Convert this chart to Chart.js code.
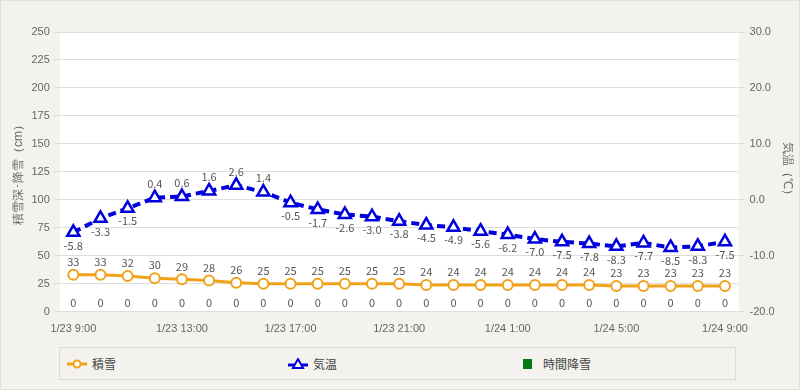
<!DOCTYPE html>
<html>
<head>
<meta charset="utf-8">
<script src="https://cdn.jsdelivr.net/npm/chart.js@4.4.0/dist/chart.umd.min.js"></script>
<style>
  body { margin: 0; background: #f3f2ee; font-family: 'Noto Sans CJK JP', sans-serif; }
  #wrap { position: relative; width: 798px; height: 388px; border: 1px solid #e2e1dc; }
  #chartBox { position: absolute; left: 0; top: 0; width: 798px; height: 342px; }
  #legend { position: absolute; left: 58px; top: 346px; width: 677px; height: 33px;
            border: 1px solid #dcdbd6; box-sizing: border-box; }
  .item { position: absolute; top: 7px; font-size: 12px; color: #444; display: flex; align-items: center; }
  .item svg { margin-right: 5px; }
</style>
</head>
<body>
<div id="wrap">
  <div id="chartBox"><canvas id="snowChart"></canvas></div>
  <div id="legend"></div>
</div>
<script>
const categories = ['1/23 9:00','1/23 10:00','1/23 11:00','1/23 12:00','1/23 13:00','1/23 14:00','1/23 15:00',
  '1/23 16:00','1/23 17:00','1/23 18:00','1/23 19:00','1/23 20:00','1/23 21:00','1/23 22:00','1/23 23:00',
  '1/24 0:00','1/24 1:00','1/24 2:00','1/24 3:00','1/24 4:00','1/24 5:00','1/24 6:00','1/24 7:00',
  '1/24 8:00','1/24 9:00'];
const snowDepth = [33,33,32,30,29,28,26,25,25,25,25,25,25,24,24,24,24,24,24,24,23,23,23,23,23];
const temperature = [-5.8,-3.3,-1.5,0.4,0.6,1.6,2.6,1.4,-0.5,-1.7,-2.6,-3.0,-3.8,-4.5,-4.9,-5.6,-6.2,-7.0,-7.5,-7.8,-8.3,-7.7,-8.5,-8.3,-7.5];
const snowfall = [0,0,0,0,0,0,0,0,0,0,0,0,0,0,0,0,0,0,0,0,0,0,0,0,0];
const seriesNames = ['積雪', '気温', '時間降雪'];
const leftTitle = '積雪深･降雪（cm）';
const rightTitle = '気温（℃）';

const orange = '#f0a21a';
const blue = '#0000dd';
const green = '#007a10';

// white plot area
const plotBg = {
  id: 'plotBg',
  beforeDraw(chart) {
    const a = chart.chartArea, ctx = chart.ctx;
    ctx.save();
    ctx.fillStyle = '#ffffff';
    ctx.fillRect(a.left, a.top, a.right - a.left, a.bottom - a.top);
    ctx.restore();
  }
};

// value labels next to the points
const valueLabels = {
  id: 'valueLabels',
  afterDatasetsDraw(chart) {
    const ctx = chart.ctx;
    ctx.save();
    ctx.font = '11px "Noto Sans CJK JP", sans-serif';
    ctx.fillStyle = '#555';
    ctx.textAlign = 'center';
    ctx.textBaseline = 'middle';
    chart.data.datasets.forEach((ds, i) => {
      const meta = chart.getDatasetMeta(i);
      meta.data.forEach((el, j) => {
        const v = ds.data[j];
        let txt = String(v), dy = -13;
        if (ds.label === '気温') {
          txt = v.toFixed(1);
          dy = v >= 0 ? -14 : 13;
        } else if (ds.type === 'bar') {
          dy = -9;
        }
        ctx.fillText(txt, el.x, el.y + dy);
      });
    });
    ctx.restore();
  }
};

const ctx = document.getElementById('snowChart');
new Chart(ctx, {
  type: 'bar',
  data: {
    labels: categories,
    datasets: [
      {
        type: 'line',
        label: seriesNames[0],
        data: snowDepth,
        yAxisID: 'y',
        borderColor: orange,
        borderWidth: 3,
        pointBackgroundColor: '#fff',
        pointBorderColor: orange,
        pointBorderWidth: 2,
        pointRadius: 5,
        order: 1
      },
      {
        type: 'line',
        label: seriesNames[1],
        data: temperature,
        yAxisID: 'y1',
        borderColor: blue,
        borderWidth: 4,
        borderDash: [8, 5],
        pointStyle: 'triangle',
        pointBackgroundColor: '#fff',
        pointBorderColor: blue,
        pointBorderWidth: 2.5,
        pointRadius: 7,
        order: 0
      },
      {
        type: 'bar',
        label: seriesNames[2],
        data: snowfall,
        yAxisID: 'y',
        backgroundColor: green,
        order: 2
      }
    ]
  },
  options: {
    responsive: true,
    maintainAspectRatio: false,
    animation: false,
    layout: { padding: { top: 31, left: 8, right: 3, bottom: 4 } },
    plugins: {
      legend: { display: false },
      tooltip: { enabled: false }
    },
    scales: {
      x: {
        grid: { display: false },
        border: { display: false },
        ticks: {
          autoSkip: false,
          maxRotation: 0,
          color: '#666',
          font: { size: 11 },
          padding: 3,
          callback: function (val, idx) { return idx % 4 === 0 ? this.getLabelForValue(val) : ''; }
        }
      },
      y: {
        position: 'left',
        min: 0, max: 250,
        ticks: { stepSize: 25, color: '#666', font: { size: 11 }, padding: 4 },
        grid: { color: '#dddddd', tickLength: 6 },
        border: { display: false },
        title: { display: true, text: leftTitle, color: '#666', font: { size: 12 }, padding: 2 }
      },
      y1: {
        position: 'right',
        min: -20, max: 30,
        ticks: { stepSize: 10, color: '#666', font: { size: 11 }, padding: 5,
                 callback: v => v.toFixed(1) },
        grid: { drawOnChartArea: false, color: '#dddddd', tickLength: 6 },
        border: { display: false },
        title: { display: true, text: rightTitle, color: '#666', font: { size: 12 }, padding: 1 }
      }
    }
  },
  plugins: [plotBg, valueLabels]
});

// html legend
const legend = document.getElementById('legend');
const markers = [
  '<svg width="20" height="12"><line x1="0" y1="6" x2="20" y2="6" stroke="' + orange + '" stroke-width="3"/><circle cx="10" cy="6" r="3.5" fill="#fff" stroke="' + orange + '" stroke-width="2"/></svg>',
  '<svg width="20" height="12"><line x1="0" y1="7" x2="20" y2="7" stroke="' + blue + '" stroke-width="3"/><polygon points="10,1 15,10 5,10" fill="#fff" stroke="' + blue + '" stroke-width="2"/></svg>',
  '<svg width="20" height="12"><rect x="5" y="1" width="9" height="10" fill="' + green + '"/></svg>'
];
const lefts = [7, 228, 458];
seriesNames.forEach((name, i) => {
  const d = document.createElement('div');
  d.className = 'item';
  d.style.left = lefts[i] + 'px';
  d.innerHTML = markers[i] + '<span>' + name + '</span>';
  legend.appendChild(d);
});
</script>
</body>
</html>
